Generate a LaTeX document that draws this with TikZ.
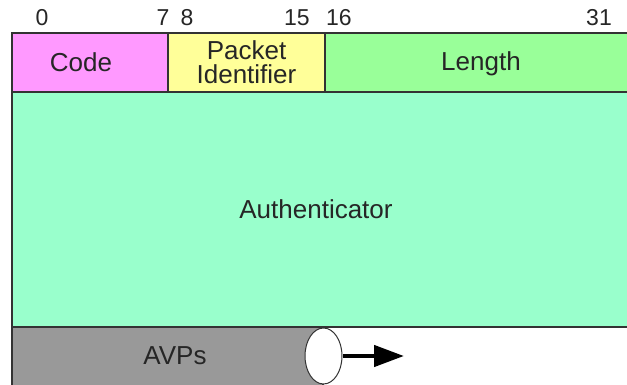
\documentclass[tikz,border=0pt]{standalone}
\usepackage{fontspec}
\setmainfont{Liberation Sans}
\usetikzlibrary{shapes.geometric,arrows.meta}
\definecolor{codec}{HTML}{FF99FF}
\definecolor{pidc}{HTML}{FFFF99}
\definecolor{lenc}{HTML}{99FF99}
\definecolor{authc}{HTML}{99FFCC}
\definecolor{avpc}{HTML}{999999}
\definecolor{edge}{HTML}{333333}
\begin{document}
\begin{tikzpicture}[x=1pt,y=-1pt,
  field/.style={draw=edge, line width=1.3pt, inner sep=0pt},
  flabel/.style={font=\fontsize{26}{24}\selectfont, text=black!85, align=center, inner sep=0pt},
  bitnum/.style={font=\fontsize{23}{24}\selectfont, text=black!85, inner sep=0pt}]
\clip (0,0) rectangle (627,385);
\fill[white] (0,0) rectangle (627,385);
% fields
\node[field, fill=authc, minimum width=616pt, minimum height=235pt] (auth) at (320,209.5) {};
\node[field, fill=avpc, minimum width=311pt, minimum height=62pt] (avp) at (167.5,358) {};
\node[field, fill=codec, minimum width=156pt, minimum height=59pt] (code) at (90,62.5) {};
\node[field, fill=pidc, minimum width=157pt, minimum height=59pt] (pid) at (246.5,62.5) {};
\node[field, fill=lenc, minimum width=304pt, minimum height=59pt] (len) at (477,62.5) {};
% labels
\node[flabel] (codel) at (81,62) {Code};
\node[flabel] (pidl) at (246.5,62) {Packet\\Identifier};
\node[flabel] (lenl) at (481,64) {Length};
\node[flabel] (authl) at (316,209) {Authenticator};
\node[flabel] (avpl) at (175,356) {AVPs};
% bit numbers
\node[bitnum] (b0) at (42,18) {0};
\node[bitnum] (b7) at (163,18) {7};
\node[bitnum] (b8) at (187,18) {8};
\node[bitnum] (b15) at (297,18) {15};
\node[bitnum] (b16) at (339,18) {16};
\node[bitnum] (b31) at (599,18) {31};
% continuation
\node[draw=edge, line width=1pt, fill=white, ellipse, minimum width=37pt, minimum height=56pt, inner sep=0pt] (ell) at (323.5,356) {};
\coordinate (aend) at (404,356);
\draw[line width=4.5pt, -{Triangle[length=30pt,width=21pt]}] (ell.east) -- (aend);
\end{tikzpicture}
\end{document}
